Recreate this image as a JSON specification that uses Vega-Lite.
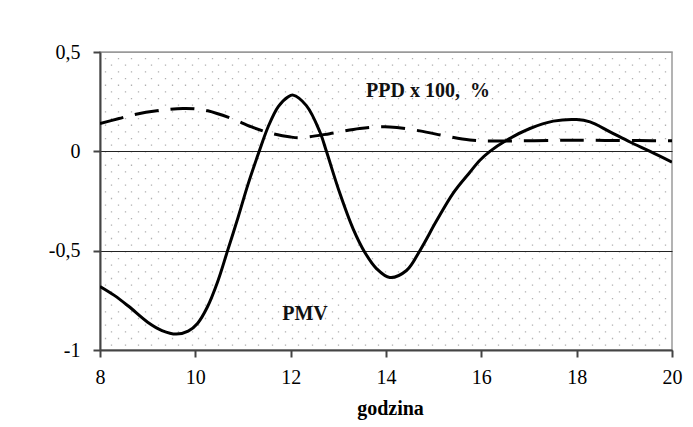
{
  "$schema": "https://vega.github.io/schema/vega-lite/v6.json",
  "width": 572,
  "height": 298,
  "autosize": {"type": "none"},
  "padding": {"left": 100, "top": 52, "right": 21, "bottom": 77},
  "background": "white",
  "config": {
    "view": {"stroke": "#9a9a9a", "strokeWidth": 1.5},
    "font": "Liberation Serif"
  },
  "datasets": {
    "curves": [
      {"series": "PMV", "h": 8.0, "v": -0.68},
      {"series": "PMV", "h": 8.3, "v": -0.725},
      {"series": "PMV", "h": 8.6, "v": -0.78},
      {"series": "PMV", "h": 9.0, "v": -0.86},
      {"series": "PMV", "h": 9.3, "v": -0.902},
      {"series": "PMV", "h": 9.6, "v": -0.92},
      {"series": "PMV", "h": 9.85, "v": -0.905},
      {"series": "PMV", "h": 10.05, "v": -0.865},
      {"series": "PMV", "h": 10.25, "v": -0.785},
      {"series": "PMV", "h": 10.47, "v": -0.655},
      {"series": "PMV", "h": 10.67, "v": -0.505},
      {"series": "PMV", "h": 10.9, "v": -0.33},
      {"series": "PMV", "h": 11.1, "v": -0.17},
      {"series": "PMV", "h": 11.34, "v": 0.0},
      {"series": "PMV", "h": 11.53, "v": 0.125},
      {"series": "PMV", "h": 11.74, "v": 0.225},
      {"series": "PMV", "h": 11.95, "v": 0.275},
      {"series": "PMV", "h": 12.05, "v": 0.283},
      {"series": "PMV", "h": 12.33, "v": 0.23},
      {"series": "PMV", "h": 12.61, "v": 0.1},
      {"series": "PMV", "h": 12.75, "v": 0.0},
      {"series": "PMV", "h": 13.03, "v": -0.21},
      {"series": "PMV", "h": 13.31, "v": -0.39},
      {"series": "PMV", "h": 13.56, "v": -0.51},
      {"series": "PMV", "h": 13.8, "v": -0.59},
      {"series": "PMV", "h": 14.08, "v": -0.635},
      {"series": "PMV", "h": 14.43, "v": -0.6},
      {"series": "PMV", "h": 14.71, "v": -0.5},
      {"series": "PMV", "h": 15.06, "v": -0.35},
      {"series": "PMV", "h": 15.41, "v": -0.21},
      {"series": "PMV", "h": 15.76, "v": -0.105},
      {"series": "PMV", "h": 15.97, "v": -0.045},
      {"series": "PMV", "h": 16.18, "v": 0.0},
      {"series": "PMV", "h": 16.53, "v": 0.056},
      {"series": "PMV", "h": 17.02, "v": 0.115},
      {"series": "PMV", "h": 17.51, "v": 0.152},
      {"series": "PMV", "h": 18.0, "v": 0.16},
      {"series": "PMV", "h": 18.28, "v": 0.148},
      {"series": "PMV", "h": 18.7, "v": 0.098},
      {"series": "PMV", "h": 19.12, "v": 0.047},
      {"series": "PMV", "h": 19.54, "v": 0.0},
      {"series": "PMV", "h": 20.0, "v": -0.054},
      {"series": "PPD", "h": 8.0, "v": 0.14},
      {"series": "PPD", "h": 8.4, "v": 0.165},
      {"series": "PPD", "h": 8.72, "v": 0.185},
      {"series": "PPD", "h": 9.29, "v": 0.207},
      {"series": "PPD", "h": 9.74, "v": 0.216},
      {"series": "PPD", "h": 10.0, "v": 0.214},
      {"series": "PPD", "h": 10.26, "v": 0.204},
      {"series": "PPD", "h": 10.76, "v": 0.165},
      {"series": "PPD", "h": 11.18, "v": 0.123},
      {"series": "PPD", "h": 11.6, "v": 0.09},
      {"series": "PPD", "h": 12.0, "v": 0.072},
      {"series": "PPD", "h": 12.2, "v": 0.069},
      {"series": "PPD", "h": 12.82, "v": 0.089},
      {"series": "PPD", "h": 13.45, "v": 0.115},
      {"series": "PPD", "h": 14.08, "v": 0.123},
      {"series": "PPD", "h": 14.71, "v": 0.103},
      {"series": "PPD", "h": 15.27, "v": 0.076},
      {"series": "PPD", "h": 15.76, "v": 0.057},
      {"series": "PPD", "h": 16.2, "v": 0.052},
      {"series": "PPD", "h": 16.8, "v": 0.053},
      {"series": "PPD", "h": 17.5, "v": 0.055},
      {"series": "PPD", "h": 18.0, "v": 0.056},
      {"series": "PPD", "h": 18.6, "v": 0.055},
      {"series": "PPD", "h": 19.3, "v": 0.054},
      {"series": "PPD", "h": 20.0, "v": 0.053}
    ],
    "labels": [
      {"label": "PPD x 100,\u00a0 %", "h": 14.88, "v": 0.273},
      {"label": "PMV", "h": 12.3, "v": -0.849}
    ]
  },
  "resolve": {"axis": {"x": "independent"}},
  "layer": [
    {
      "data": {"name": "curves"},
      "transform": [{"filter": "datum.series == 'PPD'"}],
      "mark": {"type": "line", "interpolate": "catmull-rom", "color": "#000", "strokeWidth": 3, "strokeDash": [24, 12], "clip": true},
      "encoding": {
        "x": {
          "field": "h", "type": "quantitative",
          "scale": {"domain": [8, 20], "nice": false, "zero": false},
          "axis": {
            "orient": "top", "title": null, "labels": false, "ticks": false, "domain": false,
            "grid": true, "gridColor": "#b0b0b0", "gridWidth": 1.3, "gridDash": [1.3, 12.03], "gridDashOffset": 2,
            "values": [8.1, 8.38, 8.66, 8.94, 9.22, 9.5, 9.78, 10.06, 10.34, 10.62, 10.9, 11.18, 11.46, 11.74, 12.02, 12.3, 12.58, 12.86, 13.14, 13.42, 13.7, 13.98, 14.26, 14.54, 14.82, 15.1, 15.38, 15.66, 15.94, 16.22, 16.5, 16.78, 17.06, 17.34, 17.62, 17.9, 18.18, 18.46, 18.74, 19.02, 19.3, 19.58, 19.86]
          }
        },
        "y": {
          "field": "v", "type": "quantitative",
          "scale": {"domain": [-1, 0.5], "nice": false, "zero": false},
          "axis": {
            "title": null,
            "values": [-1, -0.5, 0, 0.5],
            "labelExpr": "replace(toString(datum.value), '.', ',')",
            "labelFont": "Liberation Serif", "labelFontSize": 20, "labelColor": "#000",
            "labelPadding": 13, "labelFlush": false, "labelOverlap": false,
            "domain": true, "domainColor": "#444", "domainWidth": 2,
            "ticks": true, "tickColor": "#444", "tickWidth": 2, "tickSize": 7,
            "grid": true,
            "gridColor": {"condition": {"test": "datum.value == 0.5", "value": "#9a9a9a"}, "value": "#222"},
            "gridWidth": 1.2
          }
        }
      }
    },
    {
      "data": {"name": "curves"},
      "transform": [{"filter": "datum.series == 'PMV'"}],
      "mark": {"type": "line", "interpolate": "catmull-rom", "color": "#000", "strokeWidth": 3, "clip": true},
      "encoding": {
        "x": {
          "field": "h", "type": "quantitative",
          "axis": {
            "orient": "top", "title": null, "labels": false, "ticks": false, "domain": false,
            "grid": true, "gridColor": "#b0b0b0", "gridWidth": 1.3, "gridDash": [1.3, 12.03], "gridDashOffset": 8.63,
            "values": [8.24, 8.52, 8.8, 9.08, 9.36, 9.64, 9.92, 10.2, 10.48, 10.76, 11.04, 11.32, 11.6, 11.88, 12.16, 12.44, 12.72, 13.0, 13.28, 13.56, 13.84, 14.12, 14.4, 14.68, 14.96, 15.24, 15.52, 15.8, 16.08, 16.36, 16.64, 16.92, 17.2, 17.48, 17.76, 18.04, 18.32, 18.6, 18.88, 19.16, 19.44, 19.72]
          }
        },
        "y": {"field": "v", "type": "quantitative"}
      }
    },
    {
      "data": {"name": "labels"},
      "mark": {"type": "text", "font": "Liberation Serif", "fontSize": 20, "fontWeight": "bold", "color": "#111", "align": "center", "baseline": "alphabetic"},
      "encoding": {
        "x": {
          "field": "h", "type": "quantitative",
          "axis": {
            "orient": "bottom",
            "title": "godzina", "titleFont": "Liberation Serif", "titleFontSize": 20, "titleFontWeight": "bold", "titleColor": "#000",
            "titleBaseline": "alphabetic", "titleY": 64, "titleX": 290,
            "values": [8, 10, 12, 14, 16, 18, 20],
            "labelFont": "Liberation Serif", "labelFontSize": 20, "labelColor": "#000",
            "labelPadding": 10, "labelFlush": false, "labelOverlap": false,
            "domain": true, "domainColor": "#444", "domainWidth": 2,
            "ticks": true, "tickColor": "#444", "tickWidth": 2, "tickSize": 7,
            "grid": false
          }
        },
        "y": {"field": "v", "type": "quantitative"},
        "text": {"field": "label", "type": "nominal"}
      }
    }
  ]
}
